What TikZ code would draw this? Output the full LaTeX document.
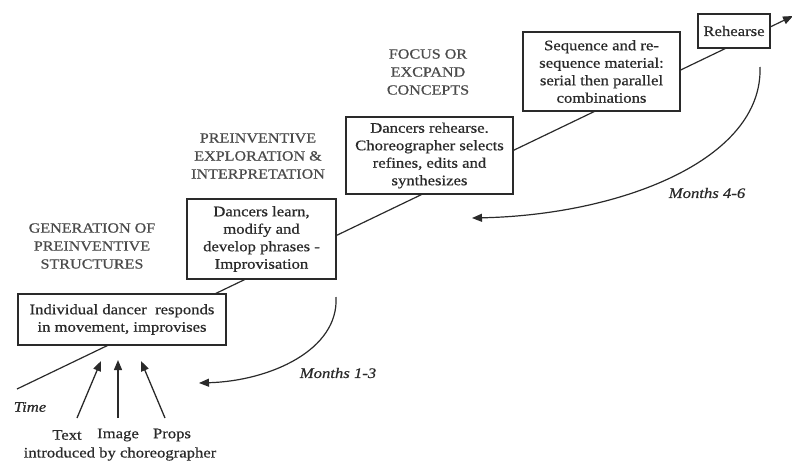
\documentclass[tikz,border=0pt]{standalone}
\usepackage{fontspec}
\setmainfont{Liberation Serif}[FakeStretch=1.15, FakeBold=0.6]
\usetikzlibrary{arrows.meta}
\definecolor{ink}{HTML}{2A2A2A}
\definecolor{head}{HTML}{4A4A4A}
\tikzset{
  stagebox/.style={draw=ink, line width=1.5pt, fill=white, align=center, text=ink,
    inner sep=0pt, font=\fontsize{14.5}{17.5}\selectfont},
  heading/.style={align=center, text=head, inner sep=0pt, font=\fontsize{14}{18}\selectfont},
  lbl/.style={text=ink, inner sep=0pt, font=\fontsize{14.5}{17.5}\selectfont},
  mlbl/.style={text=ink, inner sep=0pt, font=\fontsize{14.5}{17.5}\selectfont\itshape},
  timeline/.style={draw=ink, line width=1.2pt},
  curvearrow/.style={draw=ink, line width=1.2pt, -{Triangle[length=10pt,width=8pt]}},
  smallarrow/.style={draw=ink, line width=1.3pt, -{Triangle[length=10pt,width=8pt]}}
}
\begin{document}
\begin{tikzpicture}[x=1pt,y=-1pt]
\useasboundingbox (0,0) rectangle (792,463);
% time line
\coordinate (t0) at (17,389);
\coordinate (t1) at (793,16);
\draw[timeline, -{Triangle[length=10pt,width=8pt]}] (t0) -- (t1);
% stage boxes
\node[stagebox, minimum width=208pt, minimum height=51pt] (b1) at (122,319.5)
  {Individual dancer\ \ responds\\in movement, improvises};
\node[stagebox, minimum width=149pt, minimum height=80pt] (b2) at (261.5,239)
  {Dancers learn,\\modify and\\develop phrases -\\Improvisation};
\node[stagebox, minimum width=167pt, minimum height=77pt] (b3) at (429.5,155.5)
  {Dancers rehearse.\\Choreographer selects\\refines, edits and\\synthesizes};
\node[stagebox, minimum width=157pt, minimum height=79pt] (b4) at (601.5,71.5)
  {Sequence and re-\\sequence material:\\serial then parallel\\combinations};
\node[stagebox, minimum width=72pt, minimum height=34pt] (b5) at (734,31)
  {Rehearse};
% headings
\node[heading] (h1) at (92,246) {GENERATION OF\\PREINVENTIVE\\STRUCTURES};
\node[heading] (h2) at (258,156) {PREINVENTIVE\\EXPLORATION \&\\INTERPRETATION};
\node[heading] (h3) at (428,72) {FOCUS OR\\EXCPAND\\CONCEPTS};
% month arrows
\coordinate (m1s) at (336,297);
\coordinate (m1e) at (199,383);
\draw[curvearrow] (m1s) .. controls (339,350) and (270,381) .. (m1e);
\node[mlbl] (m1) at (338,373) {Months 1-3};
\coordinate (m2s) at (760,67);
\coordinate (m2e) at (472,218);
\draw[curvearrow] (m2s) .. controls (763,160) and (620,215) .. (m2e);
\node[mlbl] (m2) at (707,193) {Months 4-6};
% time label
\node[mlbl] (time) at (30,407) {Time};
% inputs
\node[lbl] (txt) at (67,435) {Text};
\node[lbl] (img) at (118,435) {Image};
\node[lbl] (prp) at (172,435) {Props};
\node[lbl] (intro) at (120,454) {introduced by choreographer};
\coordinate (a1s) at (77,418);
\coordinate (a1e) at (101,361);
\coordinate (a2s) at (118,418);
\coordinate (a2e) at (118,360);
\coordinate (a3s) at (165,418);
\coordinate (a3e) at (141,361);
\draw[smallarrow] (a1s) -- (a1e);
\draw[smallarrow] (a2s) -- (a2e);
\draw[smallarrow] (a3s) -- (a3e);
\end{tikzpicture}
\end{document}
